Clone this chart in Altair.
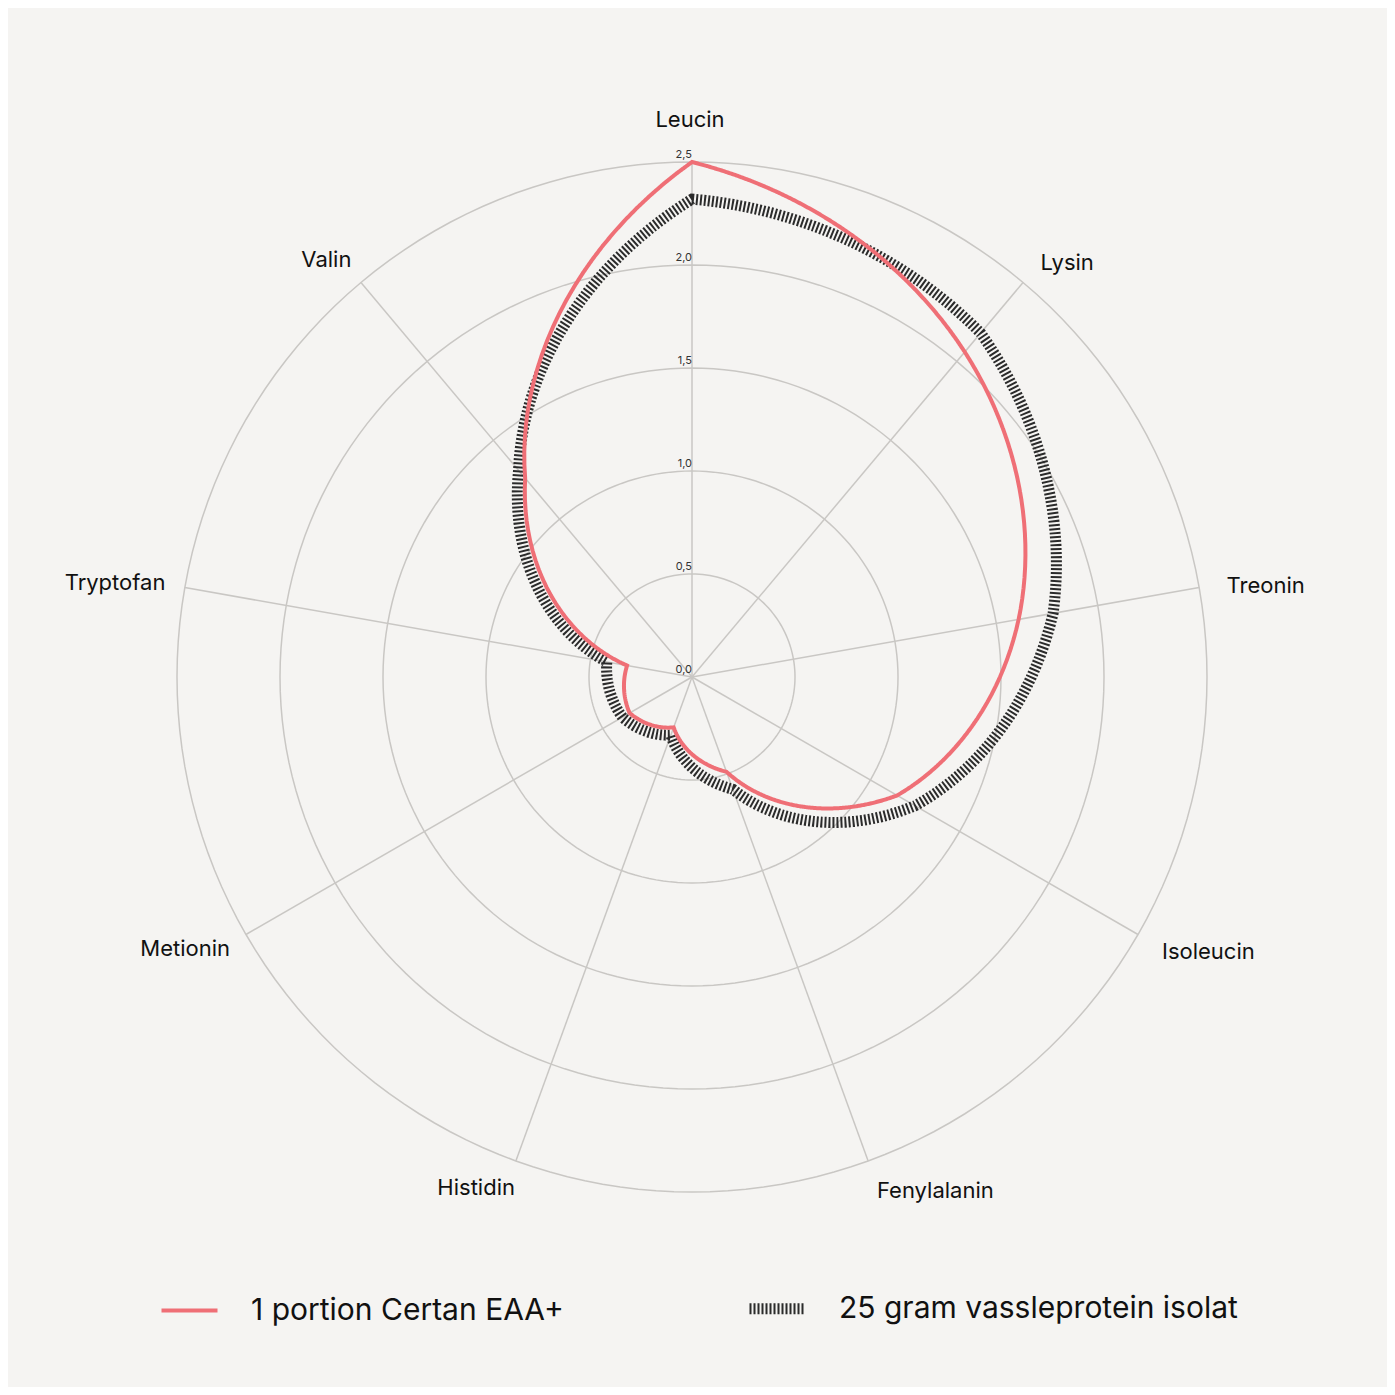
import altair as alt
import pandas as pd

# ---- data ----
categories = ["Leucin", "Lysin", "Treonin", "Isoleucin", "Fenylalanin",
              "Histidin", "Metionin", "Tryptofan", "Valin"]
certan_eaa = [2.50, 2.06, 1.61, 1.15, 0.49, 0.26, 0.35, 0.32, 1.26]
whey_isolat = [2.32, 2.18, 1.78, 1.25, 0.58, 0.30, 0.39, 0.42, 1.31]
series_names = ["1 portion Certan EAA+", "25 gram vassleprotein isolat"]
ring_values = [0.5, 1.0, 1.5, 2.0, 2.5]
tick_values = [0.0, 0.5, 1.0, 1.5, 2.0, 2.5]
tick_labels = ["0,0", "0,5", "1,0", "1,5", "2,0", "2,5"]

R_MAX = 2.5
N = len(categories)
RED = "#ef6f76"
BLACK = "#2b2b2b"
GRID = "#c9c7c4"
FONT = "Inter"
STEPS = 24
LABEL_R = 2.64

rows = []
for name, vals in zip(series_names, [certan_eaa, whey_isolat]):
    for i, v in enumerate(vals):
        rows.append({"series": name, "idx": i, "category": categories[i],
                     "value": v, "next": vals[(i + 1) % N]})
series_df = pd.DataFrame(rows)
cat_df = pd.DataFrame({"category": categories, "idx": list(range(N))})
ring_df = pd.DataFrame({"ring": ring_values})
tick_df = pd.DataFrame({"r": tick_values, "label": tick_labels})

xs = alt.Scale(domain=[-R_MAX, R_MAX], nice=False, zero=False)
ys = alt.Scale(domain=[-R_MAX, R_MAX], nice=False, zero=False)


def X(f):
    return alt.X(f"{f}:Q", scale=xs, axis=None)


def Y(f):
    return alt.Y(f"{f}:Q", scale=ys, axis=None)


# ---- grid rings ----
rings = (
    alt.Chart(ring_df)
    .transform_calculate(k="sequence(0, 180)")
    .transform_flatten(["k"])
    .transform_calculate(ang="datum.k * 2 * PI / 180")
    .transform_calculate(px="datum.ring * sin(datum.ang)", py="datum.ring * cos(datum.ang)")
    .mark_line(interpolate="linear-closed", color=GRID, strokeWidth=1.5)
    .encode(x=X("px"), y=Y("py"), detail="ring:N", order=alt.Order("k:Q"))
)

# ---- spokes ----
spokes = (
    alt.Chart(cat_df)
    .transform_calculate(ang=f"datum.idx * 2 * PI / {N}")
    .transform_calculate(x0="0", y0="0",
                         x1=f"{R_MAX} * sin(datum.ang)", y1=f"{R_MAX} * cos(datum.ang)")
    .mark_rule(color=GRID, strokeWidth=1.5)
    .encode(x=X("x0"), y=Y("y0"), x2="x1:Q", y2="y1:Q")
)

whey_name = series_names[1]
legend = alt.Legend(
    title=None,
    symbolStrokeWidth=alt.ExprRef(f"datum.value === '{whey_name}' ? 15 : 6"),
    symbolDash=alt.ExprRef(f"datum.value === '{whey_name}' ? [3, 3] : [1, 0]"),
)
enc_common = dict(
    color=alt.Color("series:N", scale=alt.Scale(domain=series_names, range=[RED, BLACK]), legend=legend),
    strokeDash=alt.StrokeDash("series:N", scale=alt.Scale(domain=series_names, range=[[1, 0], [2, 2]]), legend=None),
    strokeWidth=alt.StrokeWidth("series:N", scale=alt.Scale(domain=series_names, range=[4, 11]), legend=None),
)


def series_layer(name):
    return (
        alt.Chart(series_df)
        .transform_filter(alt.datum.series == name)
        .transform_calculate(t=f"sequence(0, {STEPS + 1})")
        .transform_flatten(["t"])
        .transform_calculate(fr=f"datum.t / {STEPS}")
        .transform_calculate(ang=f"(datum.idx + datum.fr) * 2 * PI / {N}",
                             rr="datum.value + (datum.next - datum.value) * datum.fr")
        .transform_calculate(px="datum.rr * sin(datum.ang)", py="datum.rr * cos(datum.ang)",
                             ord="datum.idx * 1000 + datum.t")
        .mark_line(interpolate="linear-closed")
        .encode(x=X("px"), y=Y("py"), order=alt.Order("ord:Q"), **enc_common)
    )


black_line = series_layer(series_names[1])
red_line = series_layer(series_names[0])

# ---- radial tick labels ----
ticks = (
    alt.Chart(tick_df)
    .transform_calculate(x0="0")
    .mark_text(align="right", baseline="bottom", dy=-2, fontSize=11, font=FONT, color="#333333")
    .encode(x=X("x0"), y=Y("r"), text="label:N")
)

# ---- category labels ----
lab_base = alt.Chart(cat_df).transform_calculate(
    ang=f"datum.idx * 2 * PI / {N}"
).transform_calculate(
    lx=f"{LABEL_R} * sin(datum.ang)", ly=f"{LABEL_R} * cos(datum.ang)"
)
lab_style = dict(fontSize=22, font=FONT, color="#111111", baseline="middle")
lab_top = lab_base.transform_filter("datum.idx == 0").mark_text(
    align="center", dy=-13, dx=-2, **lab_style).encode(x=X("lx"), y=Y("ly"), text="category:N")
lab_right = lab_base.transform_filter(f"datum.idx > 0 && datum.idx * 2 < {N}").mark_text(
    align="left", dx=-1, dy=3, **lab_style).encode(x=X("lx"), y=Y("ly"), text="category:N")
lab_left = lab_base.transform_filter(f"datum.idx * 2 > {N}").mark_text(
    align="right", dx=9, dy=0, **lab_style).encode(x=X("lx"), y=Y("ly"), text="category:N")

chart = (
    alt.layer(rings, spokes, black_line, red_line, ticks, lab_top, lab_right, lab_left)
    .properties(width=1030, height=1030,
                autosize=alt.AutoSizeParams(type="none"),
                padding={"left": 169, "top": 154, "right": 180, "bottom": 195})
    .configure(background="#f5f4f2", font=FONT)
    .configure_view(stroke=None)
    .configure_legend(orient="none", legendX=-21, legendY=1113, direction="horizontal",
                      columns=2, columnPadding=163, labelFontSize=30, labelFont=FONT,
                      labelColor="#111111", symbolType="stroke", symbolSize=3136,
                      labelOffset=28, padding=0, labelLimit=600)
)

chart.save("out.html", embed_options={"renderer": "svg", "actions": False})
